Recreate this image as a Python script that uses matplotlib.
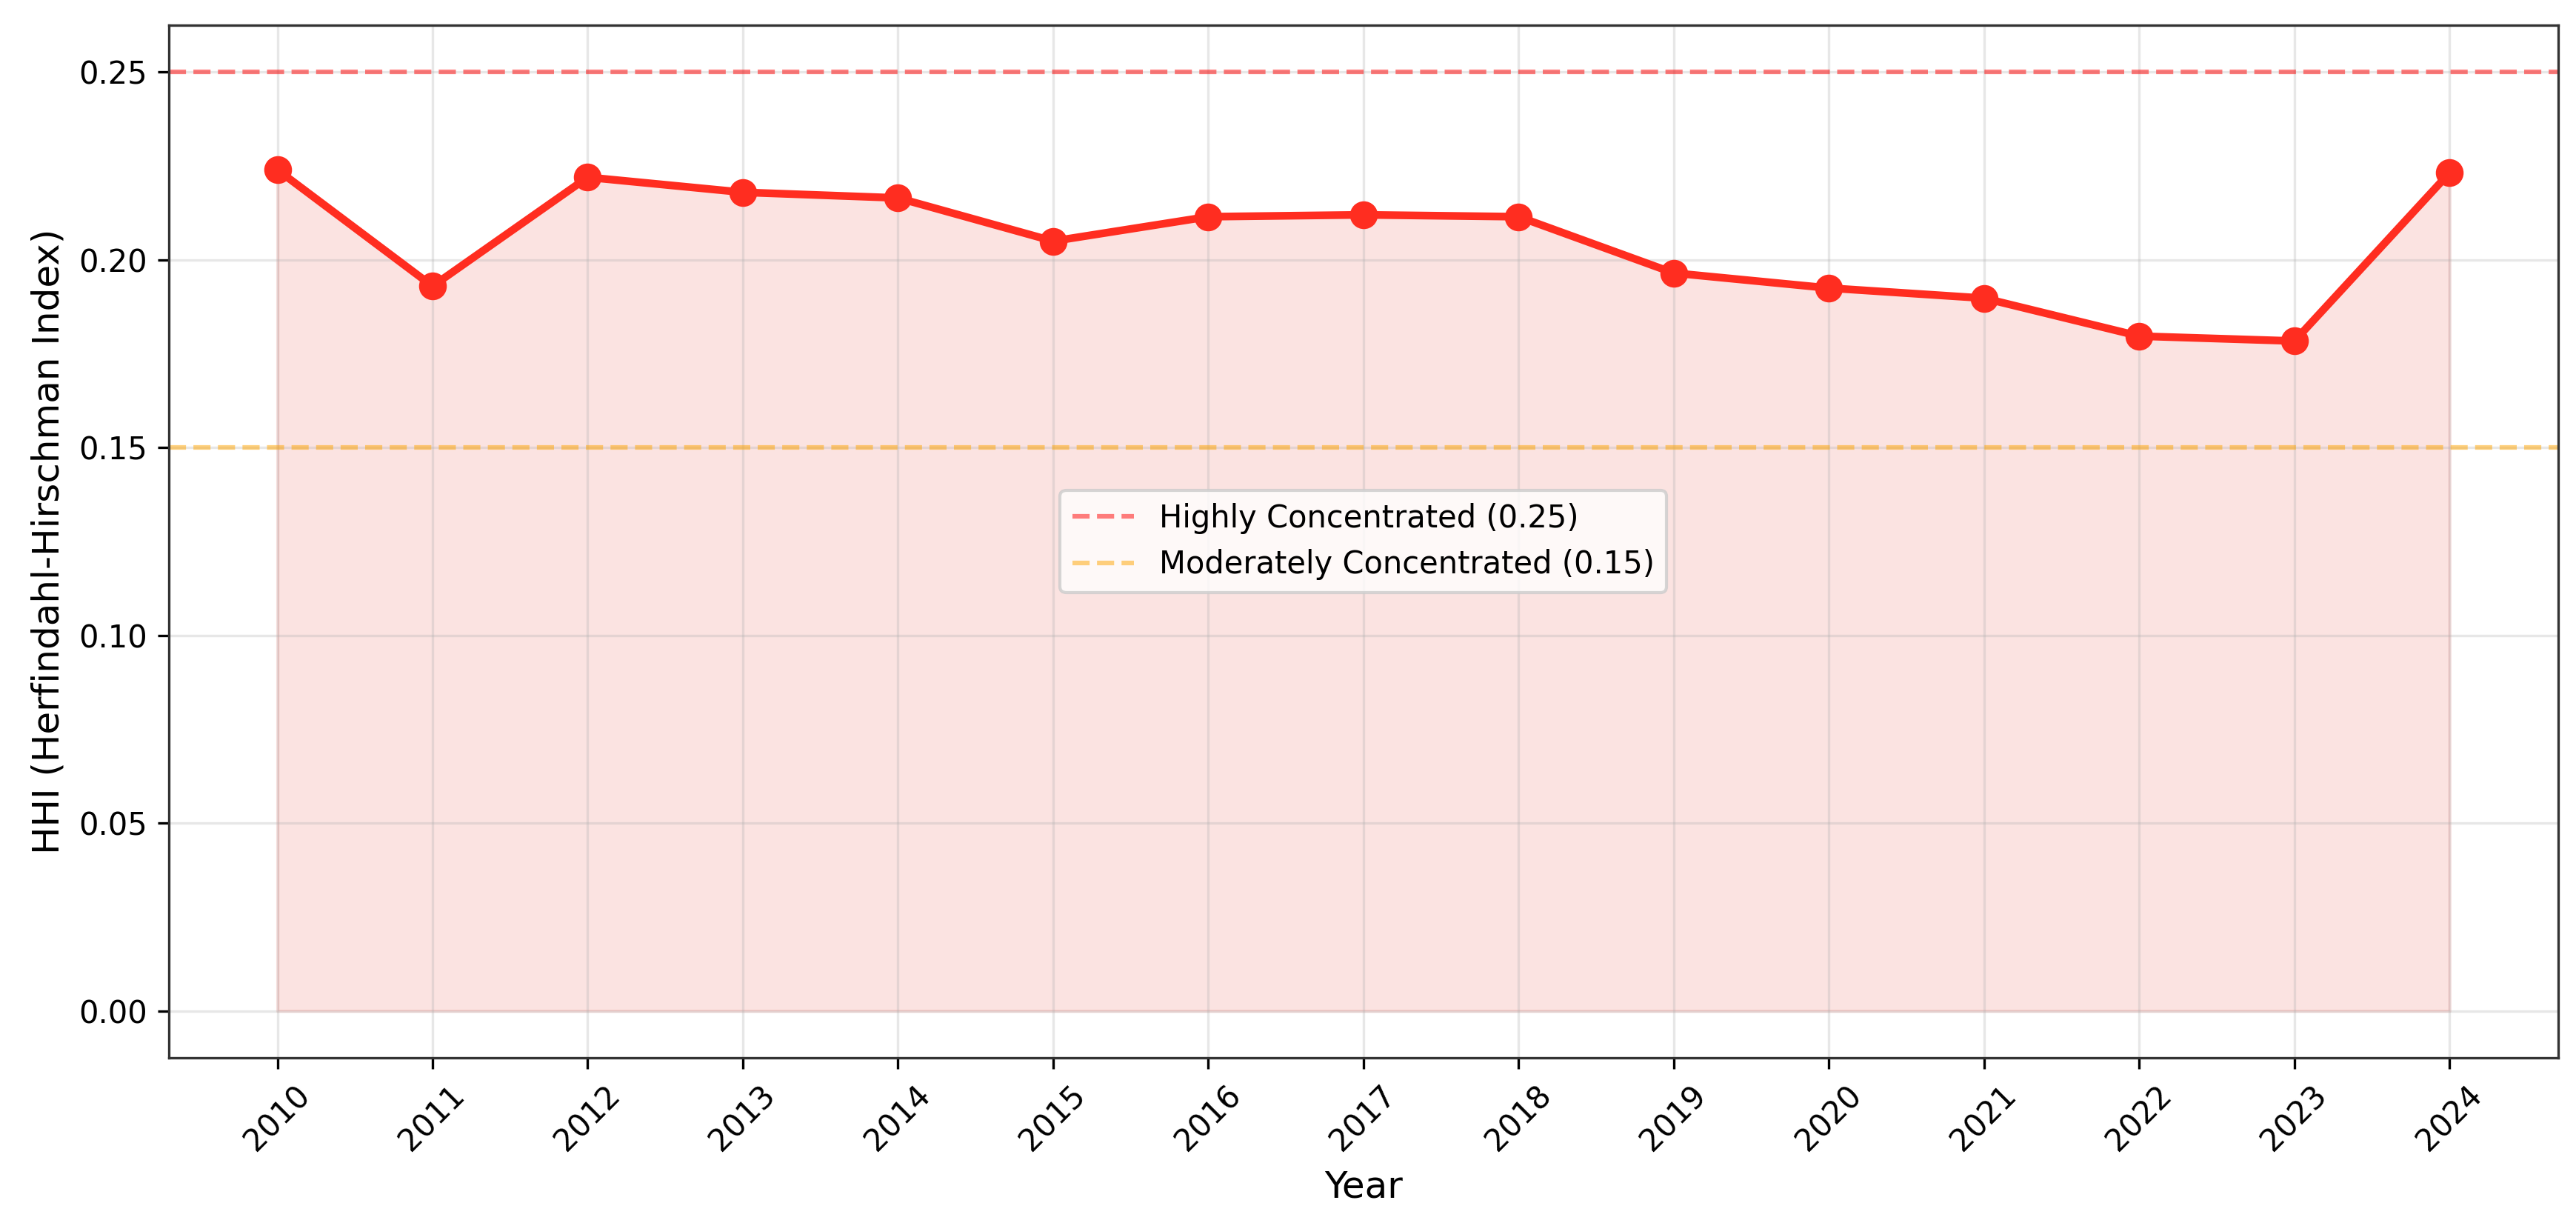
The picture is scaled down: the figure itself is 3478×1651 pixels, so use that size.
import matplotlib
matplotlib.use("Agg")
import matplotlib.pyplot as plt

years = [2010, 2011, 2012, 2013, 2014, 2015, 2016, 2017, 2018, 2019, 2020, 2021, 2022, 2023, 2024]
hhi = [0.224, 0.193, 0.222, 0.218, 0.2165, 0.205, 0.2115, 0.212, 0.2115, 0.1965, 0.1925, 0.1898, 0.1797, 0.1784, 0.2232]
thresholds = [0.25, 0.15]
threshold_labels = ["Highly Concentrated (0.25)", "Moderately Concentrated (0.15)"]
threshold_colors = ["red", "orange"]

fig = plt.figure(figsize=(3479 / 300, 1651 / 300), dpi=300)
ax = fig.add_axes([0.0655, 0.135, 0.9273, 0.8444])

ax.plot(years, hhi, marker="o", color="#ff2d20", linewidth=2.5, markersize=8)
ax.fill_between(years, hhi, alpha=0.15, color="#e8453c")

for val, lab, col in zip(thresholds, threshold_labels, threshold_colors):
    ax.axhline(y=val, color=col, linestyle="--", linewidth=1.5, alpha=0.5, label=lab)

ax.set_xlabel("Year", fontsize=12)
ax.set_ylabel("HHI (Herfindahl-Hirschman Index)", fontsize=12)
ax.set_xticks(years)
ax.set_xticklabels([str(y) for y in years], rotation=45)
ax.grid(True, alpha=0.3)
ax.legend(loc="center")

for s in ax.spines.values():
    s.set_edgecolor("#333333")

fig.savefig("out.png", dpi=300)
